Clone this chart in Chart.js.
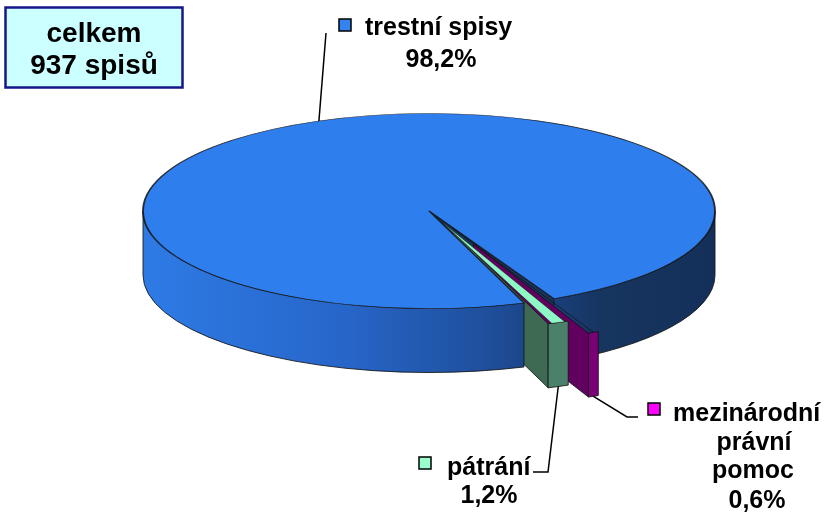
<!DOCTYPE html>
<html>
<head>
<meta charset="utf-8">
<script src="https://cdn.jsdelivr.net/npm/chart.js@4.4.1/dist/chart.umd.min.js"></script>
<style>
  html, body { margin: 0; padding: 0; background: #fff; }
  canvas { display: block; }
</style>
</head>
<body>
<canvas id="pieChart" width="838" height="516"></canvas>
<script>
// =============== Data
const categories = ['trestní spisy', 'mezinárodní právní pomoc', 'pátrání'];
const values = [98.2, 0.6, 1.2];
const total = 937;

// =============== Colours
const topColors = ['#2e7eee', '#ff00ff', '#8ef7c6'];
const wallColors = [null, '#7a0078', '#4b806a'];
const cutColors = ['#17355f', '#62005f', '#3e6a54'];
const keyColors = ['#3384f0', '#ff00ff', '#99ffcc'];
const explode = [0, 136, 86];

// =============== 3D projection of the pie
const CX = 429, CY = 211, RX = 286, RY = 97.5, DEPTH = 64, R = 180;

function sliceGeom(el) {
    const circ = el.endAngle - el.startAngle;
    const off = (el.options.offset || 0) / 4 * (2 - Math.sin(Math.min(Math.PI, circ)));
    const mid = (el.startAngle + el.endAngle) / 2;
    const sx = RX / el.outerRadius, sy = RY / el.outerRadius;
    return {
        cx: CX + Math.cos(mid) * off * sx,
        cy: CY + Math.sin(mid) * off * sy,
        s: el.startAngle, e: el.endAngle, mid: mid
    };
}

function pt(g, a, z) {
    return [g.cx + RX * Math.cos(a), g.cy + RY * Math.sin(a) + z];
}

const pie3d = {
    id: 'pie3d',
    beforeDatasetsDraw(chart) {
        const ctx = chart.ctx;
        const arcs = chart.getDatasetMeta(0).data;
        const TAU = 2 * Math.PI;
        ctx.save();
        ctx.lineWidth = 1;
        ctx.strokeStyle = 'rgba(20,20,20,0.85)';
        ctx.lineJoin = 'round';

        const grad = ctx.createLinearGradient(CX - RX, 0, CX + RX, 0);
        grad.addColorStop(0, '#2e7be6');
        grad.addColorStop(0.35, '#2766c9');
        grad.addColorStop(0.6, '#1f4f9c');
        grad.addColorStop(0.7, '#1a4282');
        grad.addColorStop(0.8, '#16355f');
        grad.addColorStop(1, '#14305a');

        const faces = [];
        arcs.forEach((el, i) => {
            const g = sliceGeom(el);
            // cut faces (radial walls) facing the viewer
            [[g.e, Math.cos(g.e) > 0], [g.s, Math.cos(g.s) < 0]].forEach(([a, vis]) => {
                if (!vis) return;
                const p = pt(g, a, 0);
                faces.push({ z: Math.sin(a), t: 0, draw: () => {
                    ctx.beginPath();
                    ctx.moveTo(g.cx, g.cy);
                    ctx.lineTo(p[0], p[1]);
                    ctx.lineTo(p[0], p[1] + DEPTH);
                    ctx.lineTo(g.cx, g.cy + DEPTH);
                    ctx.closePath();
                    ctx.fillStyle = cutColors[i];
                    ctx.fill();
                    ctx.stroke();
                }});
            });
            // outer curved walls, front half only
            const k0 = Math.floor(g.s / TAU) - 1;
            const k1 = Math.ceil(g.e / TAU);
            for (let k = k0; k <= k1; k++) {
                const lo = Math.max(g.s, TAU * k);
                const hi = Math.min(g.e, TAU * k + Math.PI);
                if (hi <= lo) continue;
                const q = TAU * k + Math.PI / 2;
                const z = (lo <= q && q <= hi) ? 1 : Math.max(Math.sin(lo), Math.sin(hi));
                faces.push({ z: z, t: 1, draw: () => {
                    ctx.beginPath();
                    ctx.ellipse(g.cx, g.cy, RX, RY, 0, lo, hi, false);
                    ctx.ellipse(g.cx, g.cy + DEPTH, RX, RY, 0, hi, lo, true);
                    ctx.closePath();
                    ctx.fillStyle = wallColors[i] || grad;
                    ctx.fill();
                    ctx.stroke();
                }});
            }
        });
        faces.sort((a, b) => (a.z - b.z) || (a.t - b.t)).forEach(f => f.draw());
        ctx.restore();

        // top faces: drawn by Chart.js in a flattened context
        const el0 = arcs[0];
        ctx.save();
        ctx.translate(CX, CY);
        ctx.scale(RX / el0.outerRadius, RY / el0.outerRadius);
        ctx.translate(-el0.x, -el0.y);
    },
    afterDatasetsDraw(chart) {
        chart.ctx.restore();
    }
};

// =============== Labels, keys, leader lines, total box
const labelLayout = [
    { key: [339, 19], name: [[365, 35, 'left']], pct: [441, 67], from: 'top', leader: [[326, 33]] },
    { key: [648, 403], name: [[673, 421, 'left'], [754, 450, 'center'], [753, 478, 'center']], pct: [757, 508], from: 'bottom', leader: [[627, 417], [638, 417]] },
    { key: [419, 457], name: [[447, 475, 'left']], pct: [489, 503], from: 'bottom', leader: [[548, 472], [533, 472]] }
];

const labels3d = {
    id: 'labels3d',
    afterDraw(chart) {
        const ctx = chart.ctx;
        const arcs = chart.getDatasetMeta(0).data;
        ctx.save();

        // leader lines
        ctx.strokeStyle = '#000';
        ctx.lineWidth = 1.5;
        arcs.forEach((el, i) => {
            const L = labelLayout[i];
            const g = sliceGeom(el);
            const p = pt(g, g.mid, L.from === 'top' ? 0 : DEPTH);
            ctx.beginPath();
            ctx.moveTo(p[0], p[1]);
            L.leader.forEach(q => ctx.lineTo(q[0], q[1]));
            ctx.stroke();
        });

        // keys and texts
        ctx.font = 'bold 25px "Liberation Sans", Arial, sans-serif';
        ctx.textBaseline = 'alphabetic';
        categories.forEach((name, i) => {
            const L = labelLayout[i];
            ctx.fillStyle = keyColors[i];
            ctx.fillRect(L.key[0], L.key[1], 12, 12);
            ctx.lineWidth = 1.5;
            ctx.strokeStyle = '#000';
            ctx.strokeRect(L.key[0], L.key[1], 12, 12);

            const parts = L.name.length > 1 ? name.split(' ') : [name];
            ctx.fillStyle = '#000';
            parts.forEach((t, j) => {
                const [x, y, align] = L.name[j];
                ctx.textAlign = align;
                ctx.fillText(t, x, y);
            });
            ctx.textAlign = 'center';
            ctx.fillText(values[i].toFixed(1).replace('.', ',') + '%', L.pct[0], L.pct[1]);
        });

        // total box
        ctx.fillStyle = '#ccffff';
        ctx.fillRect(5.5, 7.5, 177, 80);
        ctx.strokeStyle = '#16168a';
        ctx.lineWidth = 2.5;
        ctx.strokeRect(5.5, 7.5, 177, 80);
        ctx.fillStyle = '#000';
        ctx.font = 'bold 28px "Liberation Sans", Arial, sans-serif';
        ctx.textAlign = 'center';
        ctx.fillText('celkem', 94, 42);
        ctx.fillText(total + ' spisů', 94, 74);
        ctx.restore();
    }
};

// =============== Camembert 3D
const pie_chart = document.getElementById('pieChart');

new Chart(pie_chart, {
    type: 'pie',
    data: {
        labels: categories,
        datasets: [{
            data: values,
            backgroundColor: topColors,
            borderColor: 'rgba(20,20,20,0.85)',
            borderWidth: [1.2, 0.5, 0.5],
            offset: explode,
            clip: false
        }]
    },
    options: {
        responsive: false,
        animation: false,
        events: [],
        rotation: 160.6,
        radius: R,
        layout: { padding: 0 },
        plugins: {
            legend: { display: false },
            tooltip: { enabled: false }
        }
    },
    plugins: [pie3d, labels3d]
});
</script>
</body>
</html>
